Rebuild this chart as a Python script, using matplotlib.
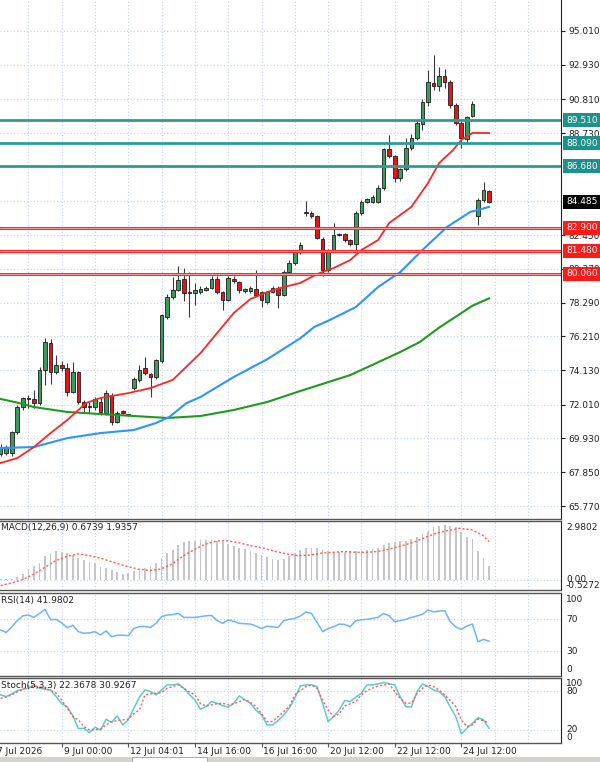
import matplotlib
matplotlib.use("Agg")
import matplotlib.pyplot as plt
from matplotlib.transforms import blended_transform_factory as blend
from matplotlib.patches import Rectangle

# candles (4H)
opens = [68.97, 69.03, 69.03, 70.32, 71.86, 72.42, 72.36, 72.11, 74.14, 75.80,
         74.02, 74.45, 74.26, 72.79, 74.02, 72.17, 71.93, 71.86, 72.17, 71.49,
         72.60, 70.94, 71.60, 71.37, 73.03, 73.53, 74.26, 73.90, 73.71, 74.70,
         77.40, 78.64, 79.07, 79.74, 78.94, 78.88, 78.94, 79.07, 79.19, 79.74,
         78.94, 78.45, 79.74, 79.56, 79.00, 79.00, 79.13, 78.94, 78.33, 78.94,
         79.19, 78.76, 80.17, 80.73, 81.41, 83.81, 83.81, 83.62, 82.21, 80.30,
         81.53, 82.45, 82.51, 82.14, 81.90, 83.81, 84.48, 84.48, 84.48, 85.34,
         87.75, 87.31, 85.96, 86.51, 87.81, 88.42, 89.28, 90.64, 91.81, 91.62,
         92.24, 91.87, 90.45, 89.35, 88.36, 89.78, 83.62, 84.61, 85.16]
highs = [69.60, 69.55, 70.40, 72.00, 72.50, 72.60, 72.90, 74.30, 76.11, 76.05,
         75.06, 74.70, 74.57, 74.63, 74.10, 72.30, 72.17, 72.48, 72.48, 72.91,
         72.72, 71.60, 71.65, 71.40, 73.70, 74.45, 74.94, 73.95, 74.80, 77.60,
         78.80, 79.88, 80.54, 80.40, 80.20, 79.50, 79.30, 79.30, 79.90, 79.90,
         79.00, 79.90, 79.90, 79.60, 79.20, 79.30, 80.30, 79.00, 79.00, 79.30,
         79.30, 80.30, 80.90, 81.50, 82.00, 84.55, 83.90, 83.70, 82.30, 81.60,
         83.19, 82.60, 82.60, 82.20, 83.90, 84.60, 84.75, 84.90, 85.50, 87.80,
         88.61, 87.40, 86.60, 88.40, 88.70, 89.60, 90.80, 92.61, 93.53, 92.79,
         92.70, 92.00, 90.60, 89.50, 89.80, 90.70, 84.70, 85.70, 85.20]
lows = [68.85, 68.90, 68.85, 70.20, 71.70, 71.80, 71.80, 72.00, 73.22, 73.30,
        73.90, 74.10, 72.54, 72.70, 72.05, 71.56, 71.49, 71.70, 71.40, 71.40,
        70.75, 70.90, 71.45, 71.34, 72.90, 73.40, 73.85, 72.48, 73.60, 74.60,
        77.30, 78.50, 79.00, 78.40, 77.42, 78.15, 78.80, 79.00, 79.10, 78.80,
        77.83, 78.40, 79.50, 78.90, 78.90, 78.90, 78.70, 78.04, 78.20, 78.90,
        77.95, 78.70, 80.10, 80.60, 81.30, 83.60, 83.50, 82.20, 79.90, 80.20,
        81.40, 82.40, 82.00, 81.80, 81.42, 83.70, 84.40, 84.40, 84.40, 85.20,
        87.20, 85.70, 85.80, 86.40, 87.70, 88.30, 88.90, 90.40, 91.40, 91.30,
        91.50, 90.30, 89.20, 87.80, 88.10, 89.70, 83.05, 84.50, 84.40]
closes = [69.40, 69.40, 70.32, 71.86, 72.42, 72.36, 72.11, 74.14, 75.86, 74.02,
          74.45, 74.26, 72.79, 74.02, 72.17, 71.86, 71.86, 72.36, 71.56, 72.72,
          70.94, 71.49, 71.50, 71.38, 73.59, 74.14, 73.96, 73.71, 74.76, 77.53,
          78.64, 79.07, 79.68, 78.88, 78.88, 79.07, 79.13, 79.19, 79.74, 78.94,
          78.45, 79.80, 79.62, 79.07, 79.13, 79.19, 78.76, 78.45, 78.94, 79.19,
          78.76, 80.17, 80.73, 81.41, 81.84, 83.87, 83.62, 82.27, 80.30, 81.53,
          82.45, 82.50, 82.14, 81.90, 83.81, 84.48, 84.67, 84.79, 85.34, 87.75,
          87.31, 85.96, 86.51, 87.81, 88.42, 89.35, 90.64, 91.87, 91.62, 92.24,
          91.87, 90.45, 89.35, 88.42, 89.72, 90.52, 84.61, 85.22, 84.485]

# moving averages, sampled at bar positions
ma_red_x = [0, 3, 6, 9, 12, 15.4, 18, 23, 27, 31, 36, 39, 42, 45, 48, 51, 54,
            57, 60, 63, 65, 68, 70, 74, 77, 79, 81.5, 83, 85, 88]
ma_red = [68.42, 68.72, 69.40, 70.26, 71.06, 72.11, 72.42, 72.72, 73.03, 73.53,
          75.18, 76.42, 77.65, 78.51, 78.94, 79.25, 79.50, 80.05, 80.42, 80.91,
          81.53, 82.14, 83.19, 84.18, 85.65, 86.88, 87.68, 88.30, 88.73, 88.73]
ma_blue_x = [0, 6, 12, 18, 24, 28, 30.4, 33.5, 36, 42, 48, 54, 56.5, 59.3, 64,
             68, 72, 76, 80.4, 84.6, 88]
ma_blue = [69.34, 69.40, 69.95, 70.26, 70.45, 70.88, 71.25, 72.11, 72.48, 73.71,
           74.80, 76.10, 76.79, 77.22, 78.02, 79.25, 80.17, 81.53, 82.94, 83.87, 84.18]
ma_green_x = [0, 3.3, 6, 12, 18, 24, 30, 36, 42, 48, 54, 63, 72, 75.5, 79, 82.8, 85, 88]
ma_green = [72.36, 72.11, 71.86, 71.56, 71.43, 71.31, 71.19, 71.31, 71.68, 72.17,
            72.85, 73.83, 75.25, 75.86, 76.75, 77.60, 78.10, 78.55]

macd_hist = [0.02, 0.03, 0.05, 0.14, 0.29, 0.55, 0.71, 0.87, 1.20, 1.33,
             1.45, 1.41, 1.36, 1.25, 1.10, 0.98, 0.90, 0.83, 0.66, 0.57,
             0.49, 0.40, 0.30, 0.34, 0.42, 0.52, 0.57, 0.67, 0.85, 1.10,
             1.33, 1.52, 1.75, 1.90, 1.95, 1.95, 2.02, 2.01, 1.99, 1.95,
             1.90, 1.79, 1.71, 1.62, 1.55, 1.45, 1.33, 1.24, 1.15, 1.07,
             1.01, 1.06, 1.18, 1.35, 1.53, 1.59, 1.63, 1.59, 1.49, 1.43,
             1.39, 1.39, 1.42, 1.44, 1.46, 1.47, 1.50, 1.54, 1.62, 1.75,
             1.86, 1.93, 1.96, 1.95, 2.06, 2.18, 2.30, 2.45, 2.67, 2.74,
             2.78, 2.71, 2.66, 2.42, 2.17, 2.04, 1.47, 1.10, 0.6739]
macd_sig_x = [0, 2, 4, 6, 8, 10, 12, 14, 16, 18.5, 20.6, 22.7, 24.7, 26.8, 28.9,
              30.9, 33, 35, 37, 39, 41, 43, 45, 47.5, 49.5, 51.5, 53.5, 55.8,
              57.9, 60, 62, 64, 66, 68, 70, 72.4, 74.4, 76.5, 78.6, 80.6, 82.7,
              84.8, 86.8, 88]
macd_sig = [-0.30, -0.17, 0.0, 0.29, 0.63, 0.97, 1.19, 1.31, 1.22, 1.05, 0.85,
            0.68, 0.54, 0.46, 0.54, 0.80, 1.22, 1.55, 1.81, 1.97, 1.97, 1.87,
            1.73, 1.59, 1.43, 1.31, 1.22, 1.25, 1.35, 1.39, 1.43, 1.39, 1.39,
            1.43, 1.55, 1.73, 1.90, 2.15, 2.37, 2.49, 2.61, 2.54, 2.27, 1.9357]

rsi = [56, 53, 60, 68, 74, 75, 72, 77, 82, 69, 69.5, 65, 59, 62, 54, 52, 52.5,
       54, 50, 55, 47.6, 49.5, 49.5, 49, 58, 60.5, 60.5, 59.4, 64.5, 73, 75,
       75.5, 77, 72, 72, 72, 73, 74, 74.5, 68, 64.5, 68.7, 67, 64.5, 64, 63.6,
       61, 58, 61, 60, 59.4, 67.8, 69.5, 70.8, 73.7, 79, 77, 66, 54, 58, 60.3,
       63.6, 63, 60.3, 67.8, 69, 69.5, 70.8, 72, 77, 74, 66.6, 68, 69.5, 72,
       73.7, 76, 81.3, 79, 80, 80.4, 66.6, 60, 56.9, 61, 63.6, 41.3, 44.3, 41.98]

stoch_k = [73.4, 70.9, 75, 80, 82, 83.6, 88.7, 83.6, 82, 81, 70.9, 60, 55, 42,
           22, 22.5, 15.9, 24, 20, 36.3, 31.2, 41.4, 27.6, 35.3, 53, 70, 81,
           78.5, 73.4, 81, 88.7, 88.7, 90.2, 83.6, 74, 65.8, 51.6, 55.6, 63.3,
           60.7, 57, 54.6, 60.7, 71.9, 66, 60.7, 50, 42.9, 27.6, 27.6, 34.2,
           42.9, 53, 68.3, 87.2, 88.7, 88.7, 86.2, 60.7, 32.7, 40.4, 50.5, 64.8,
           63.3, 70, 76, 88.7, 88.7, 90.2, 92.3, 90.5, 88.7, 70, 55.6, 54.6,
           78.5, 90.2, 86.2, 81, 78.5, 70.9, 55, 40.4, 13.9, 22.5, 30, 38.8,
           35.3, 22.37]
stoch_d = [68.3, 70, 73.4, 78, 82, 87.2, 86.5, 86.2, 83.6, 80, 76, 65.8, 53,
           40, 35.3, 25.1, 20, 20.5, 21, 27.6, 32.7, 34, 35.3, 36.3, 45, 50.5,
           73.4, 75, 76, 77, 83.6, 86, 88.7, 83.6, 78, 73.4, 60, 56.6, 58.2, 60,
           60.7, 58.2, 60, 63.3, 66.8, 62, 55.6, 45, 32.7, 32.7, 40.4, 48, 55.6,
           73.4, 80, 86.2, 88.7, 83.6, 65.8, 50, 40.4, 44.4, 56.6, 60, 63.3,
           73.4, 80, 83.6, 87.2, 88.5, 90.2, 78.5, 68, 60.7, 60.7, 75, 83.6,
           88.7, 86.2, 81, 73.4, 65, 55.6, 35, 25.1, 27.6, 36.3, 34, 30.93]

price_ticks = [95.010, 92.930, 90.810, 88.730, 82.450, 80.370, 78.290,
               76.210, 74.130, 72.010, 69.930, 67.850, 65.770]
hidden_ticks = [86.650, 84.570]
resist = [89.510, 88.090, 86.680]
support = [82.900, 81.480, 80.060]
last_price = 84.485

date_pos = [-1, 11, 23, 35, 47, 59, 71, 83]
date_labels = ["7 Jul 2026", "9 Jul 00:00", "12 Jul 04:01", "14 Jul 16:00",
               "16 Jul 16:00", "20 Jul 12:00", "22 Jul 12:00", "24 Jul 12:00"]

# ---- figure ----
W, H = 600, 762
AXR = 561  # right price scale line, px
fs = 6.5
gridc = "#c3d2ea"
dots = (0, (1, 2))
fig = plt.figure(figsize=(W / 100, H / 100), dpi=100)
fig.patch.set_facecolor("white")


def panel(top, bottom):
    a = fig.add_axes([0, 1 - bottom / H, AXR / W, (bottom - top) / H])
    a.set_xlim(-0.117, 100.96)
    a.set_xticks([])
    a.set_yticks([])
    a.spines["left"].set_visible(False)
    a.spines["right"].set_color("#222222")
    for s in ("top", "bottom"):
        a.spines[s].set_color("#555555")
        a.spines[s].set_linewidth(1.0)
    for v in range(5, 101, 6):
        a.axvline(v, color=gridc, lw=0.8, ls=dots, zorder=0)
    return a


def rlabel(y_px, txt):
    fig.text(566 / W, 1 - y_px / H, txt, fontsize=fs, color="#222222",
             va="center", ha="left")


ax = panel(0, 519)
ax.spines["top"].set_visible(False)
ax.set_ylim(64.97, 96.918)
for v in price_ticks + hidden_ticks:
    ax.axhline(v, color=gridc, lw=0.8, ls=dots, zorder=0)
ax.yaxis.tick_right()
ax.set_yticks(price_ticks)
ax.set_yticklabels(["%.3f" % v for v in price_ticks])
ax.tick_params(axis="y", length=3, width=0.8, pad=2, labelsize=fs,
               colors="#222222")
ax.text(566 / W, 97.09, "97.090", transform=blend(fig.transFigure, ax.transData),
        fontsize=fs, color="#222222", va="center", clip_on=False)

xs = list(range(len(opens)))
ax.vlines(xs, lows, highs, color="#3a3a3a", lw=0.8, zorder=2)
body_col = ["#3c9a5c" if c >= o else "#e8141a" for o, c in zip(opens, closes)]
body_bot = [min(o, c) for o, c in zip(opens, closes)]
body_h = [max(abs(c - o), 0.05) for o, c in zip(opens, closes)]
ax.bar(xs, body_h, bottom=body_bot, width=0.66, color=body_col,
       edgecolor="#1e1e1e", linewidth=0.6, zorder=3)

ax.plot(ma_green_x, ma_green, color="#1f9a1f", lw=1.5, zorder=4)
ax.plot(ma_blue_x, ma_blue, color="#2b95ff", lw=1.5, zorder=4)
ax.plot(ma_red_x, ma_red, color="#ff2424", lw=1.3, zorder=4)

tr = blend(fig.transFigure, ax.transData)
box = dict(boxstyle="square,pad=0.28", lw=0)
for v in resist:
    ax.axhline(v, color="#2a9d98", lw=2.0, zorder=6)
    ax.text(566 / W, v, "%.3f" % v, transform=tr, fontsize=fs, color="white",
            va="center", zorder=10, clip_on=False, bbox=dict(box, fc="#1e918c"))
for v in support:
    ax.axhline(v, color="#ff2a2a", lw=2.2, zorder=6)
    ax.axhline(v, color="#ffc4c4", lw=0.5, zorder=6)
    ax.text(566 / W, v, "%.3f" % v, transform=tr, fontsize=fs, color="white",
            va="center", zorder=10, clip_on=False, bbox=dict(box, fc="#ff1a1a"))
ax.text(566 / W, last_price, "%.3f" % last_price, transform=tr, fontsize=fs,
        color="white", va="center", zorder=10, clip_on=False,
        bbox=dict(box, fc="black"))

# MACD
am = panel(521, 590)
am.set_ylim(-0.5272, 2.9802)
am.axhline(0, color=gridc, lw=0.8, ls=dots, zorder=0)
am.bar(xs, macd_hist, width=0.32, color="#c6c6c6", zorder=2)
am.plot(macd_sig_x, macd_sig, color="#ff5a5a", lw=1.0, ls=(0, (1.5, 1.5)), zorder=3)
am.text(0.002, 0.9, "MACD(12,26,9) 0.6739 1.9357", transform=am.transAxes,
        fontsize=fs, color="#222222", va="center")
rlabel(527, "2.9802")
rlabel(580, "0.00")
rlabel(586, "-0.5272")

# RSI
ar = panel(592.5, 675.5)
ar.set_ylim(-1.3, 103.4)
for v in (70, 30):
    ar.axhline(v, color=gridc, lw=0.8, ls=dots, zorder=0)
ar.plot(xs, rsi, color="#6db4ff", lw=1.1, zorder=3)
ar.text(0.002, 0.9, "RSI(14) 41.9802", transform=ar.transAxes,
        fontsize=fs, color="#222222", va="center")
rlabel(600, "100")
rlabel(619, "70")
rlabel(651, "30")
rlabel(670, "0")

# Stochastic
st = panel(677.5, 743)
st.set_ylim(0, 100)
for v in (80, 20):
    st.axhline(v, color=gridc, lw=0.8, ls=dots, zorder=0)
st.plot(xs, stoch_k, color="#5ccccc", lw=1.1, zorder=3)
st.plot(xs, stoch_d, color="#ff5a5a", lw=1.0, ls=(0, (1.5, 1.5)), zorder=3)
st.text(0.002, 0.88, "Stoch(5,3,3) 22.3678 30.9267", transform=st.transAxes,
        fontsize=fs, color="#222222", va="center")
rlabel(683, "100")
rlabel(691, "80")
rlabel(730, "20")
rlabel(738, "0")

st.set_xticks(date_pos[1:])
st.set_xticklabels([])
st.tick_params(axis="x", length=3, width=0.8, colors="#555555")
trx = blend(st.transData, fig.transFigure)
for p, lab in zip(date_pos, date_labels):
    st.text(p + 0.35, 1 - 751 / H, lab, transform=trx, fontsize=fs,
            color="#222222", va="center", ha="left", clip_on=False)

# tab strip at the bottom
fig.patches.append(Rectangle((0, 0), 1, 5 / H, transform=fig.transFigure,
                             fc="#d6d3ce", ec="none"))
fig.patches.append(Rectangle((132 / W, 0), 75 / W, 5 / H, transform=fig.transFigure,
                             fc="white", ec="#a0a0a0", lw=0.6))

fig.savefig("out.png", dpi=100)
